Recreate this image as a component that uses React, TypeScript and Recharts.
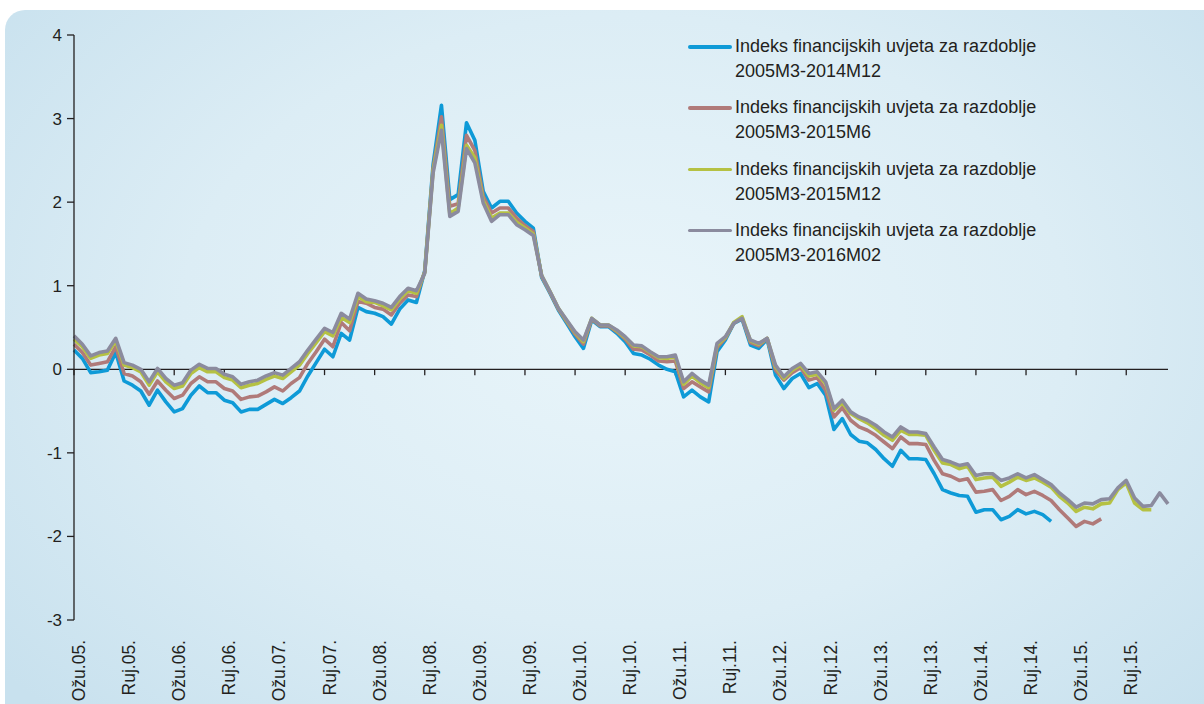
import { LineChart, Line, XAxis, YAxis, ReferenceLine, Legend } from "recharts"

const FONT = '"Liberation Sans", Arial, Helvetica, sans-serif'
const INK = "#231f20"

// months 2005M3 .. 2016M2
const MONTHS: string[] = []
for (let y = 2005; y <= 2016; y++) {
  for (let m = 1; m <= 12; m++) {
    if ((y === 2005 && m < 3) || (y === 2016 && m > 2)) continue
    MONTHS.push(`${y}M${m}`)
  }
}

const TICK_LABELS = [
  "Ožu.05.", "Ruj.05.", "Ožu.06.", "Ruj.06.", "Ožu.07.", "Ruj.07.", "Ožu.08.", "Ruj.08.",
  "Ožu.09.", "Ruj.09.", "Ožu.10.", "Ruj.10.", "Ožu.11.", "Ruj.11.", "Ožu.12.", "Ruj.12.",
  "Ožu.13.", "Ruj.13.", "Ožu.14.", "Ruj.14.", "Ožu.15.", "Ruj.15.",
]
const TICK_MONTHS = MONTHS.filter((_, i) => i % 6 === 0)

const Y_TICKS = [-3, -2, -1, 0, 1, 2, 3, 4]

const SERIES_NAMES = [
  "Indeks financijskih uvjeta za razdoblje 2005M3-2014M12",
  "Indeks financijskih uvjeta za razdoblje 2005M3-2015M6",
  "Indeks financijskih uvjeta za razdoblje 2005M3-2015M12",
  "Indeks financijskih uvjeta za razdoblje 2005M3-2016M02",
]
const COLORS = ["#0e9ad7", "#b07a79", "#b5c143", "#8b8b9e"]

// 2005M3-2014M12
const FCI_2014M12 = [
  0.23, 0.13, -0.04, -0.03, -0.01, 0.20, -0.14, -0.19, -0.26, -0.43,
  -0.25, -0.39, -0.51, -0.47, -0.31, -0.20, -0.28, -0.28, -0.37, -0.40,
  -0.51, -0.48, -0.48, -0.42, -0.36, -0.41, -0.34, -0.26, -0.08, 0.08,
  0.24, 0.15, 0.43, 0.35, 0.74, 0.69, 0.67, 0.63, 0.54, 0.72,
  0.83, 0.80, 1.18, 2.45, 3.16, 2.03, 2.09, 2.95, 2.74, 2.13,
  1.93, 2.01, 2.01, 1.87, 1.77, 1.69, 1.10, 0.91, 0.71, 0.55,
  0.39, 0.25, 0.59, 0.51, 0.51, 0.43, 0.33, 0.19, 0.17, 0.12,
  0.05, 0.00, -0.03, -0.33, -0.25, -0.33, -0.39, 0.21, 0.35, 0.55,
  0.60, 0.29, 0.25, 0.36, -0.07, -0.23, -0.11, -0.05, -0.22, -0.17,
  -0.31, -0.72, -0.59, -0.78, -0.86, -0.88, -0.96, -1.07, -1.16, -0.97,
  -1.07, -1.07, -1.08, -1.25, -1.44, -1.48, -1.51, -1.52, -1.71, -1.68,
  -1.68, -1.80, -1.76, -1.68, -1.73, -1.70, -1.74, -1.82,
]

// 2005M3-2015M6
const FCI_2015M6 = [
  0.30, 0.20, 0.05, 0.07, 0.09, 0.27, -0.05, -0.08, -0.15, -0.30,
  -0.14, -0.25, -0.35, -0.31, -0.17, -0.09, -0.15, -0.15, -0.23, -0.26,
  -0.36, -0.33, -0.32, -0.27, -0.21, -0.26, -0.17, -0.10, 0.07, 0.21,
  0.36, 0.27, 0.56, 0.46, 0.81, 0.79, 0.74, 0.72, 0.65, 0.79,
  0.89, 0.87, 1.17, 2.40, 3.02, 1.95, 1.98, 2.80, 2.62, 2.07,
  1.87, 1.93, 1.93, 1.81, 1.72, 1.65, 1.11, 0.92, 0.72, 0.57,
  0.42, 0.30, 0.60, 0.52, 0.52, 0.45, 0.36, 0.24, 0.23, 0.17,
  0.10, 0.09, 0.10, -0.23, -0.15, -0.21, -0.27, 0.26, 0.37, 0.55,
  0.61, 0.32, 0.28, 0.37, -0.01, -0.13, -0.04, 0.02, -0.13, -0.10,
  -0.25, -0.57, -0.46, -0.61, -0.69, -0.73, -0.79, -0.87, -0.95, -0.81,
  -0.89, -0.89, -0.90, -1.09, -1.25, -1.28, -1.33, -1.31, -1.47, -1.46,
  -1.44, -1.57, -1.52, -1.44, -1.50, -1.46, -1.51, -1.57, -1.68, -1.78,
  -1.88, -1.82, -1.85, -1.79,
]

// 2005M3-2015M12
const FCI_2015M12 = [
  0.36, 0.27, 0.13, 0.17, 0.19, 0.34, 0.05, 0.02, -0.03, -0.19,
  -0.03, -0.15, -0.23, -0.20, -0.05, 0.02, -0.03, -0.03, -0.10, -0.13,
  -0.22, -0.19, -0.17, -0.12, -0.08, -0.11, -0.03, 0.05, 0.19, 0.32,
  0.45, 0.40, 0.62, 0.56, 0.87, 0.81, 0.80, 0.76, 0.71, 0.84,
  0.94, 0.91, 1.16, 2.38, 2.92, 1.86, 1.93, 2.68, 2.53, 2.02,
  1.81, 1.87, 1.87, 1.76, 1.69, 1.62, 1.12, 0.93, 0.73, 0.58,
  0.44, 0.33, 0.61, 0.53, 0.53, 0.46, 0.38, 0.28, 0.27, 0.20,
  0.14, 0.13, 0.15, -0.18, -0.08, -0.16, -0.22, 0.29, 0.38, 0.56,
  0.63, 0.34, 0.30, 0.37, 0.03, -0.11, -0.01, 0.05, -0.08, -0.06,
  -0.17, -0.49, -0.40, -0.53, -0.59, -0.64, -0.71, -0.79, -0.85, -0.73,
  -0.78, -0.78, -0.79, -0.97, -1.12, -1.14, -1.19, -1.16, -1.32, -1.30,
  -1.29, -1.40, -1.35, -1.29, -1.33, -1.30, -1.35, -1.41, -1.52, -1.60,
  -1.70, -1.65, -1.67, -1.61, -1.60, -1.44, -1.36, -1.60, -1.68, -1.68,
]

// 2005M3-2016M02
const FCI_2016M02 = [
  0.40, 0.30, 0.16, 0.20, 0.22, 0.37, 0.08, 0.05, 0.00, -0.15,
  0.01, -0.11, -0.19, -0.16, -0.01, 0.06, 0.01, 0.01, -0.06, -0.09,
  -0.18, -0.15, -0.13, -0.08, -0.04, -0.07, 0.01, 0.09, 0.23, 0.36,
  0.49, 0.44, 0.67, 0.60, 0.91, 0.84, 0.82, 0.79, 0.74, 0.87,
  0.97, 0.94, 1.15, 2.35, 2.86, 1.83, 1.89, 2.64, 2.47, 1.99,
  1.77, 1.85, 1.85, 1.73, 1.67, 1.60, 1.12, 0.93, 0.73, 0.59,
  0.45, 0.35, 0.61, 0.53, 0.53, 0.47, 0.39, 0.29, 0.28, 0.21,
  0.15, 0.15, 0.17, -0.15, -0.05, -0.13, -0.19, 0.31, 0.39, 0.55,
  0.61, 0.35, 0.31, 0.37, 0.05, -0.09, 0.01, 0.07, -0.05, -0.03,
  -0.15, -0.47, -0.37, -0.51, -0.57, -0.61, -0.67, -0.75, -0.81, -0.69,
  -0.75, -0.75, -0.77, -0.93, -1.08, -1.11, -1.15, -1.13, -1.27, -1.25,
  -1.25, -1.33, -1.30, -1.25, -1.30, -1.26, -1.32, -1.38, -1.48, -1.56,
  -1.65, -1.60, -1.61, -1.56, -1.55, -1.42, -1.33, -1.54, -1.64, -1.63,
  -1.48, -1.61,
]

const SERIES = [FCI_2014M12, FCI_2015M6, FCI_2015M12, FCI_2016M02]

const data = MONTHS.map((month, i) => ({
  month,
  s0: FCI_2014M12[i] ?? null,
  s1: FCI_2015M6[i] ?? null,
  s2: FCI_2015M12[i] ?? null,
  s3: FCI_2016M02[i] ?? null,
}))

// rotated month label, only on every 6th month
// eslint-disable-next-line @typescript-eslint/no-explicit-any
function MonthTick({ x, y, payload }: any) {
  const idx = MONTHS.indexOf(payload.value)
  if (idx < 0 || idx % 6 !== 0) return null
  const tx = x + 11
  const ty = y + 12
  return (
    <text
      x={tx}
      y={ty}
      transform={`rotate(-90, ${tx}, ${ty})`}
      textAnchor="end"
      fontSize={17.5}
      fontFamily={FONT}
      fill={INK}
    >
      {TICK_LABELS[idx / 6]}
    </text>
  )
}

// eslint-disable-next-line @typescript-eslint/no-explicit-any
function LegendBox({ payload }: any) {
  const items = [...(payload || [])].sort(
    (a: any, b: any) => SERIES_NAMES.indexOf(String(a.value)) - SERIES_NAMES.indexOf(String(b.value))
  )
  return (
    <div style={{ fontFamily: FONT }}>
      {items.map((e: any) => {
        const name = String(e.value)
        const cut = name.lastIndexOf(" ")
        return (
          <div key={name} style={{ display: "flex", alignItems: "flex-start", height: 61.3 }}>
            <div style={{ width: 44, height: 3.6, background: e.color, borderRadius: 2, marginTop: 11, flexShrink: 0 }} />
            <div style={{ marginLeft: 3, fontSize: 18, lineHeight: "25px", color: INK, whiteSpace: "nowrap" }}>
              {name.slice(0, cut)}
              <br />
              {name.slice(cut + 1)}
            </div>
          </div>
        )
      })}
    </div>
  )
}

export default function App() {
  return (
    <div style={{ position: "absolute", left: 0, top: 0, width: 1204, height: 704, overflow: "hidden", background: "#fff" }}>
      <div
        style={{
          position: "absolute",
          left: 5,
          top: 10,
          width: 1240,
          height: 740,
          borderTopLeftRadius: 20,
          background: "radial-gradient(ellipse 65% 75% at 50% 42%, #e9f5fa 0%, #dcedf5 55%, #c8e1ee 100%)",
        }}
      />
      <div style={{ position: "absolute", left: 0, top: 0 }}>
        <LineChart width={1204} height={704} data={data} margin={{ top: 35, right: 36, left: 0, bottom: 14 }}>
          <XAxis
            dataKey="month"
            interval={5}
            axisLine={false}
            tickLine={false}
            tickSize={6}
            height={70}
            tick={(p: any) => <MonthTick {...p} />}
          />
          <YAxis
            type="number"
            domain={[-3, 4]}
            ticks={Y_TICKS}
            interval={0}
            width={74}
            tickSize={7}
            tickMargin={5}
            axisLine={{ stroke: INK, strokeWidth: 1.3 }}
            tickLine={{ stroke: INK, strokeWidth: 1.3 }}
            tick={{ fill: INK, fontSize: 17, fontFamily: FONT }}
          />
          <ReferenceLine y={0} stroke={INK} strokeWidth={1.3} />
          {TICK_MONTHS.map((m) => (
            <ReferenceLine
              key={m}
              segment={[{ x: m, y: 0 }, { x: m, y: -0.07 }]}
              stroke={INK}
              strokeWidth={1.3}
            />
          ))}
          {SERIES.map((_, k) => (
            <Line
              key={k}
              type="linear"
              dataKey={`s${k}`}
              name={SERIES_NAMES[k]}
              stroke={COLORS[k]}
              strokeWidth={3.6}
              strokeLinejoin="round"
              dot={false}
              activeDot={false}
              isAnimationActive={false}
            />
          ))}
          <Legend
            layout="vertical"
            align="center"
            verticalAlign="middle"
            content={<LegendBox />}
            wrapperStyle={{ top: 34, left: 688, width: 420 }}
          />
        </LineChart>
      </div>
    </div>
  )
}
